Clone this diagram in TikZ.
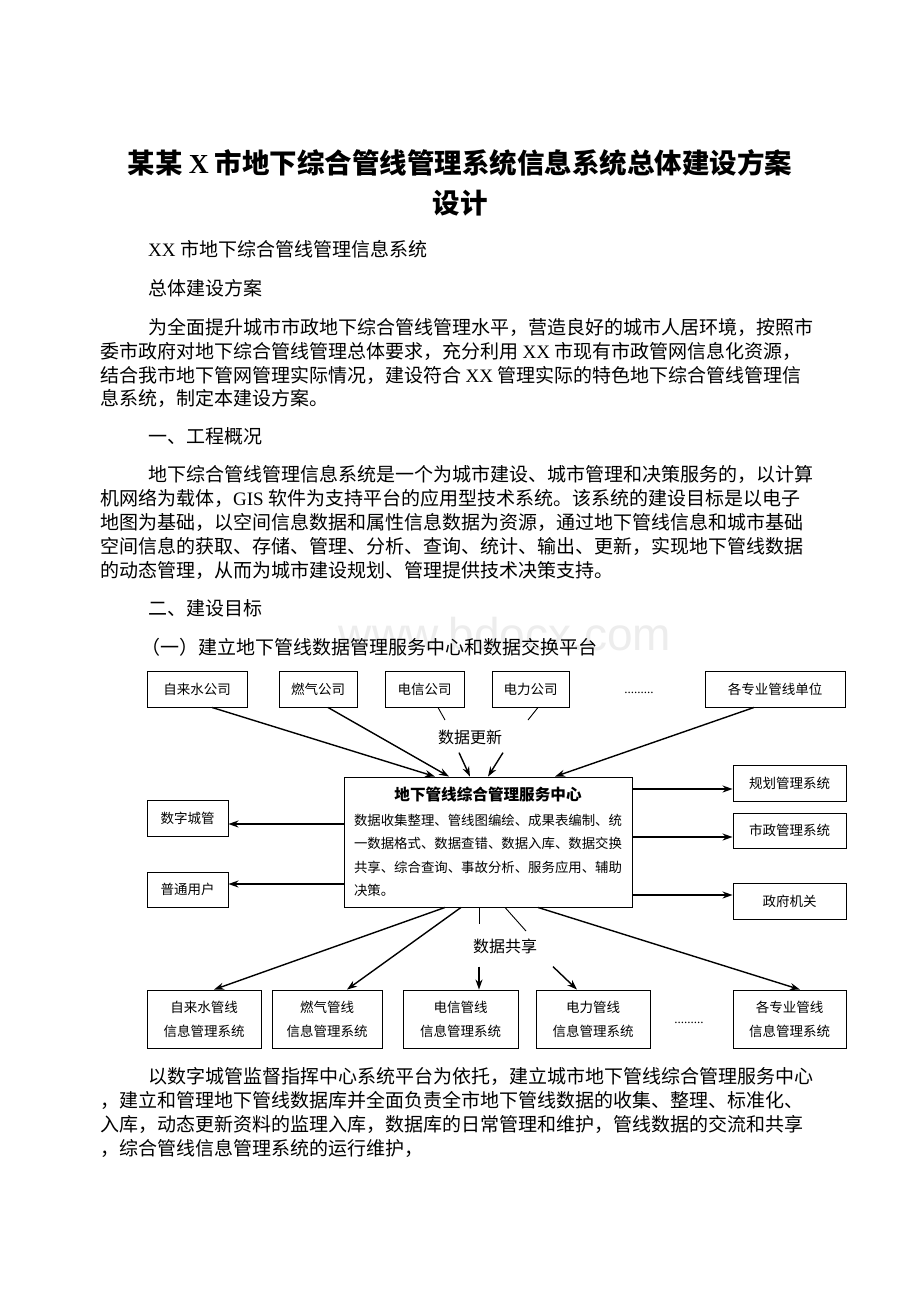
\documentclass[tikz,border=0pt]{standalone}
\usepackage{fontspec}
\setmainfont{Noto Sans CJK SC}
\newfontfamily\lat{Liberation Serif}
\newfontfamily\wmfont{Liberation Sans}
\usetikzlibrary{arrows.meta}

\newcommand{\bodyfont}{\fontsize{19}{24}\selectfont}
\newcommand{\jl}[2]{\makebox[#1pt][l]{#2}}
\newcommand{\gapx}{\hspace{4.5pt}}

\begin{document}
\begin{tikzpicture}[x=1pt,y=-1pt,
	txt/.style={anchor=west,inner sep=0pt,font=\bodyfont,text height=16.7pt,text depth=2.3pt},
	box/.style={draw,line width=0.9pt,inner sep=0pt,font=\fontsize{13.5}{24}\selectfont,align=center},
	lbl/.style={inner sep=0pt,font=\fontsize{16}{18}\selectfont},
	dots/.style={inner sep=0pt,font=\lat\fontsize{13}{14}\selectfont},
	arr/.style={line width=1.4pt,-{Stealth[length=10pt,width=7pt]}},
	ln/.style={line width=0.9pt}]

\fill[white] (0,0) rectangle (920,1302);
\useasboundingbox (0,0) rectangle (920,1302);

\node[anchor=base,inner sep=0pt,text=black!7,font=\wmfont\fontsize{46}{46}\selectfont] (wm) at (505,650) {www.bdocx.com};

% title
\node[inner sep=0pt,text height=24.2pt,text depth=3.3pt,font=\fontsize{27.5}{30}\selectfont\bfseries] (title1) at (460,163) {某某 {\lat X} 市地下综合管线管理系统信息系统总体建设方案};
\node[inner sep=0pt,text height=24.2pt,text depth=3.3pt,font=\fontsize{27.5}{30}\selectfont\bfseries] (title2) at (460,203) {设计};

\node[txt] (h1) at (148,249) {{\lat XX}\gapx 市地下综合管线管理信息系统};
\node[txt] (h2) at (148,288) {总体建设方案};

\node[txt] (pa1) at (148,327) {\jl{660}{为全面提升城市市政地下综合管线管理水平，营造良好的城市人居环境，按照市}};
\node[txt] (pa2) at (100,351) {\jl{708}{委市政府对地下综合管线管理总体要求，充分利用\gapx{\lat XX}\gapx 市现有市政管网信息化资源，}};
\node[txt] (pa3) at (100,375) {\jl{708}{结合我市地下管网管理实际情况，建设符合\gapx{\lat XX}\gapx 管理实际的特色地下综合管线管理信}};
\node[txt] (pa4) at (100,398) {息系统，制定本建设方案。};

\node[txt] (h3) at (148,436) {一、工程概况};

\node[txt] (pb1) at (148,474) {\jl{660}{地下综合管线管理信息系统是一个为城市建设、城市管理和决策服务的，以计算}};
\node[txt] (pb2) at (100,498) {\jl{708}{机网络为载体，{\lat GIS}\gapx 软件为支持平台的应用型技术系统。该系统的建设目标是以电子}};
\node[txt] (pb3) at (100,522) {\jl{708}{地图为基础，以空间信息数据和属性信息数据为资源，通过地下管线信息和城市基础}};
\node[txt] (pb4) at (100,546) {\jl{708}{空间信息的获取、存储、管理、分析、查询、统计、输出、更新，实现地下管线数据}};
\node[txt] (pb5) at (100,570) {的动态管理，从而为城市建设规划、管理提供技术决策支持。};

\node[txt] (h4) at (148,608) {二、建设目标};
\node[txt] (h5) at (141,647) {（一）建立地下管线数据管理服务中心和数据交换平台};

% diagram
\node[box,minimum width=100pt,minimum height=36pt] (wsup) at (197,689) {自来水公司};
\node[box,minimum width=78pt,minimum height=36pt] (gas) at (318,689) {燃气公司};
\node[box,minimum width=79pt,minimum height=36pt] (tel) at (424.5,689) {电信公司};
\node[box,minimum width=77pt,minimum height=36pt] (pwr) at (530.5,689) {电力公司};
\node[dots] (dots1) at (639,693) {.........};
\node[box,minimum width=140pt,minimum height=36pt] (spec) at (775,689) {各专业管线单位};

\node[lbl] (upd) at (470,737) {数据更新};

\node[box,minimum width=288pt,minimum height=130pt,align=left,font=\fontsize{13.4}{23.5}\selectfont] (hub) at (488,842)
	{\makebox[268pt][c]{\fontsize{15.6}{16}\selectfont\bfseries 地下管线综合管理服务中心}\\[1.5pt]
	数据收集整理、管线图编绘、成果表编制、统\\
	一数据格式、数据查错、数据入库、数据交换\\
	共享、综合查询、事故分析、服务应用、辅助\\
	决策。};

\node[box,minimum width=81pt,minimum height=36pt] (city) at (187.5,818) {数字城管};
\node[box,minimum width=81pt,minimum height=35pt] (user) at (187.5,889.5) {普通用户};

\node[box,minimum width=113pt,minimum height=36pt] (plan) at (789.5,783) {规划管理系统};
\node[box,minimum width=113pt,minimum height=35pt] (muni) at (789.5,830.5) {市政管理系统};
\node[box,minimum width=113pt,minimum height=36pt] (gov) at (789.5,901) {政府机关};

\node[lbl] (shr) at (505,946) {数据共享};

\node[box,minimum width=114pt,minimum height=58pt] (wsys) at (204,1019) {\makebox[81pt][c]{自来水管线}\\信息管理系统};
\node[box,minimum width=110pt,minimum height=58pt] (gsys) at (327,1019) {\makebox[81pt][c]{燃气管线}\\信息管理系统};
\node[box,minimum width=115pt,minimum height=58pt] (tsys) at (460.5,1019) {\makebox[81pt][c]{电信管线}\\信息管理系统};
\node[box,minimum width=114pt,minimum height=58pt] (psys) at (593,1019) {\makebox[81pt][c]{电力管线}\\信息管理系统};
\node[dots] (dots2) at (689,1023) {.........};
\node[box,minimum width=113pt,minimum height=58pt] (ssys) at (789.5,1019) {\makebox[81pt][c]{各专业管线}\\信息管理系统};

% update arrows
\draw[arr] ([xshift=15pt]wsup.south) -- ([xshift=-53pt]hub.north);
\draw[arr] ([xshift=10pt]gas.south) -- ([xshift=-39pt]hub.north);
\coordinate (tele) at (445,720);
\coordinate (pwre) at (528,720);
\draw[ln] ([xshift=13.5pt]tel.south) -- (tele);
\draw[ln] ([xshift=7.5pt]pwr.south) -- (pwre);
\draw[arr] ([xshift=-11pt,yshift=-8pt]upd.south) -- ([xshift=-18pt]hub.north);
\draw[arr] ([xshift=33pt,yshift=-8pt]upd.south) -- (hub.north);
\draw[arr] ([xshift=-21pt]spec.south) -- ([xshift=67pt]hub.north);

\foreach \n/\d in {plan/-6,muni/-6.5,gov/6}
{
	\coordinate (\n i) at ([yshift=\d pt]\n.west);
	\draw[arr] (hub.east |- \n i) -- (\n i);
}
\foreach \n/\d in {city/-6,user/5.5}
{
	\coordinate (\n i) at ([yshift=\d pt]\n.east);
	\draw[arr] (hub.west |- \n i) -- (\n i);
}

% sharing arrows
\draw[arr] ([xshift=-43pt]hub.south) -- ([xshift=10pt]wsys.north);
\draw[arr] ([xshift=-27pt]hub.south) -- ([xshift=20pt]gsys.north);
\coordinate (hubv) at (479,924);
\coordinate (hubd) at (526,931);
\draw[ln] ([xshift=-9pt]hub.south) -- (hubv);
\draw[ln] ([xshift=17pt]hub.south) -- (hubd);
\draw[arr] ([xshift=-26pt,yshift=-13pt]shr.south) -- ([xshift=18.5pt]tsys.north);
\draw[arr] ([xshift=48pt,yshift=-13pt]shr.south) -- ([xshift=-16pt]psys.north);
\draw[arr] ([xshift=50pt]hub.south) -- ([xshift=10.5pt]ssys.north);

\node[txt] (pc1) at (148,1076) {\jl{660}{以数字城管监督指挥中心系统平台为依托，建立城市地下管线综合管理服务中心}};
\node[txt] (pc2) at (100,1100) {\jl{708}{，建立和管理地下管线数据库并全面负责全市地下管线数据的收集、整理、标准化、}};
\node[txt] (pc3) at (100,1124) {\jl{708}{入库，动态更新资料的监理入库，数据库的日常管理和维护，管线数据的交流和共享}};
\node[txt] (pc4) at (100,1148) {，综合管线信息管理系统的运行维护，};

\end{tikzpicture}
\end{document}
